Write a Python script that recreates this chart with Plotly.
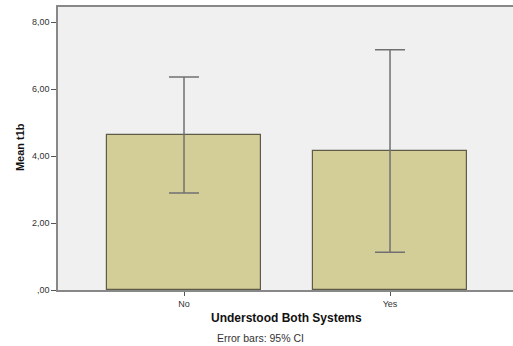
import plotly.graph_objects as go

categories = ["No", "Yes"]
means = [4.63, 4.16]
ci_upper = [6.36, 7.17]
ci_lower = [2.90, 1.13]
ytick_vals = [0, 2, 4, 6, 8]
ytick_text = [",00", "2,00", "4,00", "6,00", "8,00"]

err_plus = [u - m for u, m in zip(ci_upper, means)]
err_minus = [m - l for m, l in zip(means, ci_lower)]

fig = go.Figure()
fig.add_trace(go.Bar(
    x=[0, 1], y=means, width=0.75,
    marker=dict(color="#D3CE97", line=dict(color="#5E5C48", width=1.2)),
    error_y=dict(type="data", array=err_plus, arrayminus=err_minus,
                 color="#707070", thickness=1.5, width=15),
))

font = "Liberation Sans, Arial, sans-serif"
fig.update_layout(
    width=513, height=346,
    margin=dict(l=58, r=0, t=7, b=56, autoexpand=False),
    plot_bgcolor="#F0F0F0", paper_bgcolor="white",
    showlegend=False,
    font=dict(family=font, size=9, color="#333333"),
    bargap=0,
)
fig.update_xaxes(
    range=[-0.6117, 1.597], tickvals=[0, 1], ticktext=categories,
    showline=True, linecolor="#888888", linewidth=1.5, mirror=True,
    ticks="outside", ticklen=4, tickcolor="#555555", tickwidth=1,
    showgrid=False, zeroline=False,
    tickfont=dict(size=9, color="#333333"),
)
fig.update_yaxes(
    range=[0, 8.45], tickvals=ytick_vals, ticktext=ytick_text,
    showline=True, linecolor="#888888", linewidth=1.5,
    ticks="outside", ticklen=5, tickcolor="#555555", tickwidth=1,
    showgrid=False, zeroline=False,
    tickfont=dict(size=9, color="#333333"),
)
fig.add_annotation(text="<b>Mean t1b</b>", xref="paper", yref="paper",
                   x=0, y=0.505, xshift=-46, textangle=-90, showarrow=False,
                   font=dict(size=11, color="#111111", family=font))
fig.add_annotation(text="<b>Understood Both Systems</b>", xref="paper", yref="paper",
                   x=0.503, y=0, yshift=-19, yanchor="top", showarrow=False,
                   font=dict(size=12, color="#111111", family=font))
fig.add_annotation(text="Error bars: 95% CI", xref="paper", yref="paper",
                   x=0.446, y=0, yshift=-40, yanchor="top", showarrow=False,
                   font=dict(size=10.5, color="#333333", family=font))

fig.write_html(
    "out.html", config={"displayModeBar": False},
    post_script=("document.documentElement.style.overflow='hidden';"
                 "document.body.style.overflow='hidden';"
                 "document.body.style.margin='0';"),
)
